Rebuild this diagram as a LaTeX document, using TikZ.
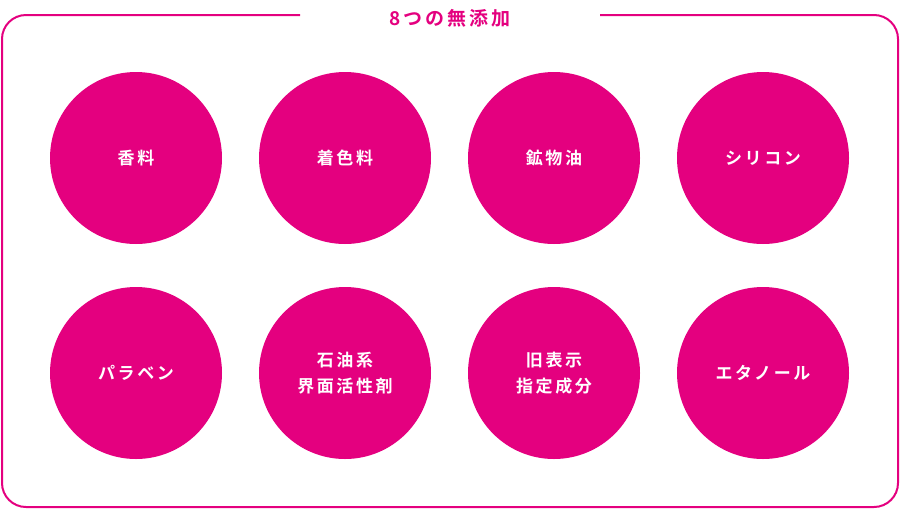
\documentclass[tikz,border=0pt]{standalone}
\usepackage{fontspec}
\newfontfamily\jp[LetterSpace=15]{Noto Sans CJK JP Bold}
\definecolor{mag}{HTML}{E4007F}
\begin{document}
\begin{tikzpicture}[x=1pt,y=-1pt,
  circ/.style={circle,fill=mag,minimum size=172pt,inner sep=0pt,text=white,font=\jp\fontsize{17}{26}\selectfont,align=center}]
\useasboundingbox (0,0) rectangle (900,512);
\draw[mag,line width=2pt,rounded corners=24pt] (300,15) -- (2,15) -- (2,507) -- (898,507) -- (898,15) -- (600,15);
\node[text=mag,font=\jp\fontsize{19}{22}\selectfont] (t) at (450,18) {8つの無添加};
\node[circ] (a) at (136,158) {香料};
\node[circ] (b) at (345,158) {着色料};
\node[circ] (c) at (554,158) {鉱物油};
\node[circ] (d) at (763,158) {シリコン};
\node[circ] (e) at (136,373) {パラベン};
\node[circ] (f) at (345,373) {石油系\\界面活性剤};
\node[circ] (g) at (554,373) {旧表示\\指定成分};
\node[circ] (h) at (763,373) {エタノール};
\end{tikzpicture}
\end{document}
